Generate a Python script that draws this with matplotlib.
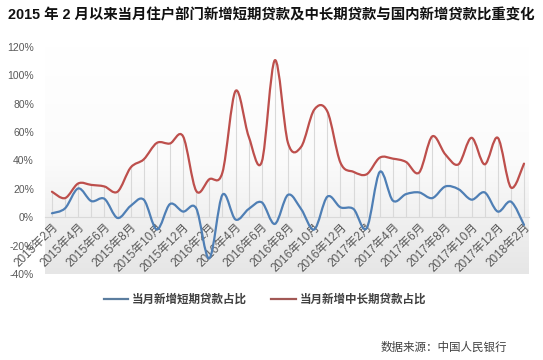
import numpy as np
import matplotlib
matplotlib.use("Agg")
import matplotlib.pyplot as plt
from matplotlib.path import Path
from matplotlib.patches import PathPatch
from matplotlib.lines import Line2D

plt.rcParams['font.family'] = ['Liberation Sans', 'Noto Sans CJK SC', 'DejaVu Sans']

# 2015-02 .. 2018-02, monthly
months = []
for y in (2015, 2016, 2017, 2018):
    for m in range(1, 13):
        if (y, m) >= (2015, 2) and (y, m) <= (2018, 2):
            months.append(f"{y}年{m}月")

short_share = [2.8, 6.3, 20.3, 11.4, 13.0, -0.5, 8.0, 12.4, -8.6, 9.3, 4.0, 6.3,
               -29.0, 15.8, -1.6, 5.8, 10.5, -4.7, 15.8, 5.8, -8.6, 14.5, 7.0, 5.8,
               -7.7, 32.0, 11.7, 16.3, 17.5, 13.5, 21.7, 19.8, 12.4, 17.5, 4.0, 11.0,
               -5.4]
long_share = [18.0, 13.5, 23.8, 22.8, 21.7, 18.0, 35.0, 40.8, 52.4, 52.0, 57.0, 18.6,
              26.8, 31.5, 89.0, 57.0, 39.0, 110.7, 52.4, 49.6, 75.8, 74.6, 38.5, 32.0,
              30.3, 42.0, 41.3, 39.0, 31.5, 57.0, 44.3, 37.3, 56.0, 37.3, 56.0, 21.0,
              37.8]

series_names = ['当月新增短期贷款占比', '当月新增中长期贷款占比']
colors = ['#4f7fb5', '#bd4f4c']


def smooth_path(xs, ys):
    # bezier segments like Excel's smoothed line
    pts = np.column_stack([xs, ys]).astype(float)
    n = len(pts)
    verts = [pts[0]]
    codes = [Path.MOVETO]
    for i in range(n - 1):
        p0 = pts[max(i - 1, 0)]
        p1 = pts[i]
        p2 = pts[i + 1]
        p3 = pts[min(i + 2, n - 1)]
        c1 = p1 + (p2 - p0) / 6.0
        c2 = p2 - (p3 - p1) / 6.0
        verts += [c1, c2, p2]
        codes += [Path.CURVE4] * 3
    return Path(verts, codes)


fig = plt.figure(figsize=(5.43, 3.6), dpi=100)
ax = fig.add_axes([45 / 543, 1 - 274 / 360, 484 / 543, 227 / 360])

x = np.arange(len(months))
ax.set_xlim(-0.53, len(months) - 1 + 0.38)
ax.set_ylim(-40, 120)

# background gradient
grad = np.linspace(0, 1, 256).reshape(-1, 1)
cmap = matplotlib.colors.LinearSegmentedColormap.from_list('bg', ['#ffffff', '#fbfbfb', '#e6e6e6'])
ax.imshow(grad, extent=[0, 1, 0, 1], transform=ax.transAxes, cmap=cmap,
          aspect='auto', zorder=0, origin='upper')

# drop lines
top = np.maximum(np.array(short_share), np.array(long_share))
ax.vlines(x, 0, top, color='#d9d9d9', lw=0.8, zorder=1)

for vals, c in zip([short_share, long_share], colors):
    ax.add_patch(PathPatch(smooth_path(x, vals), fill=False, edgecolor=c,
                           lw=1.6, zorder=3, capstyle='round', joinstyle='round'))

for s in ['top', 'right', 'left']:
    ax.spines[s].set_visible(False)
ax.spines['bottom'].set_position(('data', 0))
ax.spines['bottom'].set_color('#d9d9d9')
ax.spines['bottom'].set_linewidth(0.8)
ax.spines['bottom'].set_zorder(1)

ax.set_yticks(np.arange(-40, 121, 20))
ax.set_yticklabels([f"{v}%" for v in range(-40, 121, 20)])
ax.tick_params(axis='y', length=0, pad=8, labelsize=7.5, labelcolor='#595959')

ax.set_xticks(x[::2])
ax.set_xticklabels(months[::2], rotation=45, ha='right', va='top',
                   rotation_mode='anchor')
ax.tick_params(axis='x', length=0, pad=3, labelsize=8.5, labelcolor='#595959')

handles = [Line2D([], [], color=c, lw=1.6) for c in ['#5b7d9f', '#a25855']]
fig.legend(handles, series_names, loc='center', bbox_to_anchor=(0.488, 1 - 300 / 360),
           ncol=2, frameon=False, handlelength=2.1, handletextpad=0.35,
           columnspacing=2.1, labelcolor='#404040', prop={'weight': 'bold', 'size': 8.3})

fig.text(8 / 543, 1 - 15 / 360,
         '2015 年 2 月以来当月住户部门新增短期贷款及中长期贷款与国内新增贷款比重变化',
         ha='left', va='center', fontsize=10.4, fontweight='bold', color='#111111')
fig.text(507 / 543, 1 - 348 / 360, '数据来源：中国人民银行', ha='right', va='center',
         fontsize=8.3, color='#404040')

fig.savefig('out.png', dpi=100)
